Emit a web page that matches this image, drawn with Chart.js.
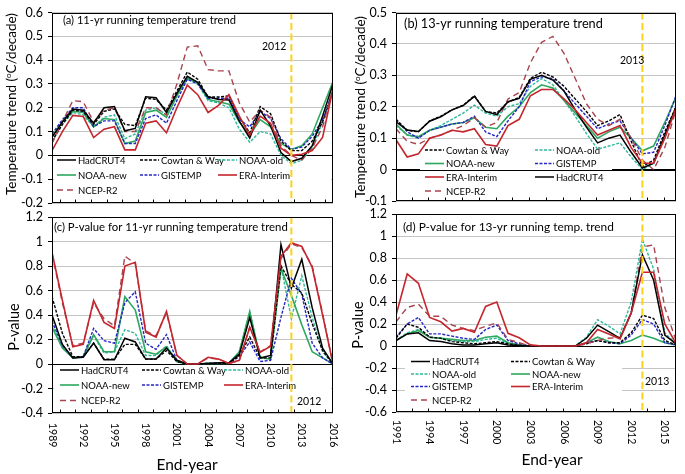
<!DOCTYPE html>
<html>
<head>
<meta charset="utf-8">
<script src="https://cdn.jsdelivr.net/npm/chart.js@4.4.1/dist/chart.umd.min.js"></script>
<style>
  body { margin: 0; background: #fff; }
  #wrap { position: relative; width: 685px; height: 474px; font-family: Lato, sans-serif; color: #000; overflow: hidden; }
  #wrap canvas { position: absolute; left: 0; top: 0; }
  .lbl { position: absolute; white-space: nowrap; transform: translate(-50%, -50%); line-height: 1; }
  .vert { transform: translate(-50%, -50%) rotate(-90deg); }
  sup { font-size: 8px; vertical-align: 5px; }
</style>
</head>
<body>
<div id="wrap">
  <canvas id="chartA" width="685" height="474"></canvas>
  <canvas id="chartB" width="685" height="474"></canvas>
  <canvas id="chartC" width="685" height="474"></canvas>
  <canvas id="chartD" width="685" height="474"></canvas>
  <div class="lbl vert" style="left:11px;top:104px;font-size:13.5px">Temperature trend (<sup>o</sup>C/decade)</div>
  <div class="lbl vert" style="left:360px;top:107px;font-size:13.5px">Temperature trend (<sup>o</sup>C/decade)</div>
  <div class="lbl vert" style="left:14px;top:327px;font-size:14.5px">P-value</div>
  <div class="lbl vert" style="left:358px;top:325px;font-size:14.5px">P-value</div>
  <div class="lbl" style="left:187px;top:465px;font-size:15.5px">End-year</div>
  <div class="lbl" style="left:552px;top:460px;font-size:15.5px">End-year</div>
</div>
<script>
// End-years of the running windows
const yearsA = [1989, 1990, 1991, 1992, 1993, 1994, 1995, 1996, 1997, 1998, 1999, 2000, 2001, 2002,
                2003, 2004, 2005, 2006, 2007, 2008, 2009, 2010, 2011, 2012, 2013, 2014, 2015, 2016];
const yearsB = [1991, 1992, 1993, 1994, 1995, 1996, 1997, 1998, 1999, 2000, 2001, 2002, 2003,
                2004, 2005, 2006, 2007, 2008, 2009, 2010, 2011, 2012, 2013, 2014, 2015, 2016];
const tickYearsA = [1989, 1992, 1995, 1998, 2001, 2004, 2007, 2010, 2013, 2016];
const tickYearsB = [1991, 1994, 1997, 2000, 2003, 2006, 2009, 2012, 2015];

const names = ['HadCRUT4', 'Cowtan & Way', 'NOAA-old', 'NOAA-new', 'GISTEMP', 'ERA-Interim', 'NCEP-R2'];

// (a) 11-yr running trend (ºC/decade)
const a_hadcrut = [0.076, 0.14, 0.195, 0.19, 0.135, 0.2, 0.205, 0.103, 0.113, 0.246, 0.242, 0.18, 0.26, 0.332, 0.307, 0.246, 0.235, 0.233, 0.144, 0.073, 0.19, 0.124, 0.012, -0.026, -0.012, 0.04, 0.165, 0.3];
const a_cowtan  = [0.06, 0.13, 0.19, 0.185, 0.13, 0.185, 0.195, 0.13, 0.125, 0.24, 0.235, 0.19, 0.27, 0.35, 0.32, 0.245, 0.245, 0.25, 0.16, 0.095, 0.205, 0.175, 0.06, 0.02, 0.02, 0.06, 0.14, 0.27];
const a_noaaOld = [0.06, 0.13, 0.18, 0.17, 0.12, 0.16, 0.17, 0.07, 0.09, 0.19, 0.2, 0.17, 0.25, 0.32, 0.3, 0.23, 0.22, 0.2, 0.11, 0.055, 0.1, 0.09, 0.0, -0.035, -0.02, 0.03, 0.14, 0.28];
const a_noaaNew = [0.08, 0.14, 0.185, 0.18, 0.12, 0.155, 0.15, 0.05, 0.06, 0.18, 0.19, 0.16, 0.25, 0.325, 0.305, 0.235, 0.225, 0.215, 0.14, 0.085, 0.15, 0.12, 0.05, 0.025, 0.04, 0.09, 0.2, 0.31];
const a_gistemp = [0.09, 0.15, 0.2, 0.2, 0.12, 0.145, 0.145, 0.05, 0.05, 0.155, 0.17, 0.135, 0.23, 0.32, 0.3, 0.24, 0.24, 0.24, 0.15, 0.12, 0.185, 0.155, 0.07, 0.025, 0.035, 0.08, 0.15, 0.27];
const a_era     = [0.02, 0.1, 0.168, 0.163, 0.075, 0.11, 0.12, 0.023, 0.023, 0.135, 0.145, 0.095, 0.2, 0.295, 0.255, 0.18, 0.21, 0.255, 0.165, 0.085, 0.165, 0.135, 0.03, 0.0, 0.005, 0.02, 0.075, 0.28];
const a_ncep    = [0.05, 0.14, 0.23, 0.225, 0.14, 0.19, 0.2, 0.1, 0.1, 0.2, 0.2, 0.17, 0.3, 0.455, 0.46, 0.36, 0.355, 0.355, 0.22, 0.14, 0.19, 0.16, 0.04, 0.0, -0.02, 0.03, 0.12, 0.28];

// (b) 13-yr running trend (ºC/decade)
const b_hadcrut = [0.152, 0.126, 0.121, 0.154, 0.168, 0.19, 0.204, 0.233, 0.185, 0.175, 0.216, 0.227, 0.287, 0.3, 0.285, 0.25, 0.19, 0.135, 0.085, 0.1, 0.11, 0.055, 0.005, 0.02, 0.11, 0.2];
const b_cowtan  = [0.16, 0.125, 0.12, 0.155, 0.17, 0.19, 0.205, 0.235, 0.185, 0.18, 0.215, 0.23, 0.29, 0.31, 0.295, 0.265, 0.225, 0.185, 0.14, 0.155, 0.175, 0.09, 0.01, 0.03, 0.12, 0.2];
const b_noaaOld = [0.14, 0.11, 0.1, 0.125, 0.14, 0.16, 0.18, 0.205, 0.18, 0.17, 0.2, 0.21, 0.265, 0.29, 0.27, 0.22, 0.17, 0.115, 0.065, 0.075, 0.085, 0.04, 0.0, 0.02, 0.1, 0.2];
const b_noaaNew = [0.145, 0.11, 0.105, 0.125, 0.135, 0.145, 0.15, 0.165, 0.135, 0.13, 0.17, 0.2, 0.245, 0.27, 0.26, 0.22, 0.18, 0.14, 0.1, 0.12, 0.135, 0.1, 0.06, 0.075, 0.15, 0.23];
const b_gistemp = [0.16, 0.12, 0.1, 0.125, 0.135, 0.145, 0.15, 0.17, 0.12, 0.105, 0.155, 0.2, 0.28, 0.295, 0.29, 0.25, 0.21, 0.17, 0.13, 0.145, 0.155, 0.1, 0.05, 0.055, 0.14, 0.235];
const b_era     = [0.095, 0.04, 0.05, 0.1, 0.11, 0.125, 0.12, 0.13, 0.08, 0.075, 0.14, 0.16, 0.235, 0.255, 0.255, 0.225, 0.19, 0.15, 0.11, 0.125, 0.14, 0.07, 0.02, 0.02, 0.1, 0.195];
const b_ncep    = [0.13, 0.09, 0.08, 0.1, 0.11, 0.125, 0.14, 0.165, 0.135, 0.15, 0.225, 0.245, 0.34, 0.405, 0.424, 0.37, 0.29, 0.21, 0.16, 0.14, 0.16, 0.1, 0.03, 0.0, 0.07, 0.19];

// (c) P-value, 11-yr trend
const c_hadcrut = [0.4, 0.16, 0.05, 0.055, 0.17, 0.035, 0.035, 0.21, 0.18, 0.04, 0.04, 0.13, 0.03, 0.0, 0.0, 0.005, 0.01, 0.01, 0.08, 0.38, 0.05, 0.07, 0.975, 0.62, 0.855, 0.46, 0.13, 0.0];
const c_cowtan  = [0.55, 0.25, 0.06, 0.06, 0.17, 0.04, 0.04, 0.16, 0.16, 0.04, 0.04, 0.11, 0.02, 0.0, 0.0, 0.005, 0.005, 0.005, 0.07, 0.22, 0.05, 0.05, 0.8, 0.65, 0.58, 0.33, 0.11, 0.0];
const c_noaaOld = [0.32, 0.14, 0.05, 0.06, 0.23, 0.09, 0.1, 0.28, 0.25, 0.07, 0.07, 0.15, 0.02, 0.0, 0.0, 0.005, 0.005, 0.005, 0.1, 0.42, 0.06, 0.04, 0.8, 0.37, 0.72, 0.38, 0.1, 0.0];
const c_noaaNew = [0.3, 0.13, 0.05, 0.06, 0.24, 0.1, 0.1, 0.55, 0.44, 0.1, 0.08, 0.14, 0.02, 0.0, 0.0, 0.005, 0.005, 0.005, 0.1, 0.43, 0.05, 0.04, 0.78, 0.56, 0.32, 0.1, 0.05, 0.0];
const c_gistemp = [0.35, 0.15, 0.05, 0.06, 0.29, 0.19, 0.17, 0.5, 0.59, 0.17, 0.12, 0.24, 0.03, 0.0, 0.0, 0.005, 0.005, 0.005, 0.06, 0.18, 0.02, 0.03, 0.38, 0.7, 0.57, 0.17, 0.05, 0.0];
const c_era     = [0.91, 0.52, 0.14, 0.16, 0.52, 0.34, 0.29, 0.8, 0.83, 0.26, 0.22, 0.43, 0.07, 0.0, 0.0, 0.055, 0.04, 0.005, 0.03, 0.3, 0.095, 0.145, 0.88, 0.99, 0.96, 0.79, 0.4, 0.0];
const c_ncep    = [0.9, 0.5, 0.15, 0.17, 0.5, 0.37, 0.31, 0.88, 0.82, 0.27, 0.23, 0.42, 0.07, 0.0, 0.0, 0.05, 0.04, 0.005, 0.03, 0.3, 0.1, 0.15, 0.86, 0.98, 0.95, 0.8, 0.41, 0.0];

// (d) P-value, 13-yr trend
const d_hadcrut = [0.05, 0.11, 0.12, 0.05, 0.04, 0.02, 0.01, 0.01, 0.02, 0.03, 0.01, 0.005, 0, 0, 0, 0, 0, 0.07, 0.19, 0.13, 0.07, 0.3, 0.83, 0.6, 0.1, 0.02];
const d_cowtan  = [0.07, 0.2, 0.17, 0.08, 0.07, 0.04, 0.03, 0.02, 0.03, 0.04, 0.02, 0.005, 0, 0, 0, 0, 0, 0.02, 0.05, 0.03, 0.03, 0.12, 0.28, 0.25, 0.05, 0.01];
const d_noaaOld = [0.05, 0.12, 0.15, 0.08, 0.07, 0.05, 0.04, 0.04, 0.06, 0.07, 0.02, 0.005, 0, 0, 0, 0, 0, 0.08, 0.24, 0.18, 0.11, 0.4, 0.97, 0.7, 0.12, 0.02];
const d_noaaNew = [0.05, 0.11, 0.14, 0.08, 0.07, 0.06, 0.05, 0.05, 0.08, 0.09, 0.03, 0.01, 0, 0, 0, 0, 0, 0.03, 0.08, 0.04, 0.02, 0.05, 0.1, 0.07, 0.03, 0.01];
const d_gistemp = [0.08, 0.2, 0.26, 0.11, 0.11, 0.09, 0.07, 0.06, 0.15, 0.19, 0.05, 0.02, 0, 0, 0, 0, 0, 0.03, 0.05, 0.03, 0.02, 0.1, 0.24, 0.2, 0.03, 0.01];
const d_era     = [0.28, 0.655, 0.57, 0.26, 0.22, 0.135, 0.16, 0.125, 0.36, 0.4, 0.115, 0.075, 0.01, 0, 0, 0, 0, 0.03, 0.15, 0.11, 0.065, 0.3, 0.67, 0.67, 0.2, 0.025];
const d_ncep    = [0.22, 0.35, 0.38, 0.27, 0.27, 0.19, 0.16, 0.14, 0.18, 0.21, 0.06, 0.03, 0, 0, 0, 0, 0, 0.02, 0.05, 0.07, 0.08, 0.3, 0.9, 0.92, 0.35, 0.05];

// line styles, same order as names
const colors = ['#000000', '#000000', '#2fb89c', '#2ea85f', '#2626c4', '#c4262e', '#a8434f'];
const dashes = [[], [3, 1.5], [3, 1.5], [], [3, 1.5], [], [6, 4]];
const widths = [1.5, 1.4, 1.4, 1.6, 1.4, 1.6, 1.4];
const drawOrder = [1, 3, 6, 5, 4, 0, 2]; // lower = drawn on top

Chart.defaults.font.family = 'Lato, sans-serif';
Chart.defaults.color = '#000';

function fitFont(ctx, text, width) {
    ctx.font = '20px Lato';
    const w = ctx.measureText(text).width;
    return (20 * width / w).toFixed(2) + 'px Lato';
}

// Draws the panel extras: legend, marker line, frame, year labels, title
const decoPlugin = {
    id: 'deco',
    beforeDatasetsDraw(chart, args, opts) {
        const ctx = chart.ctx;
        const area = chart.chartArea;
        ctx.save();
        const b = opts.legendBox;
        ctx.fillStyle = '#fff';
        ctx.fillRect(b[0], b[1], b[2] - b[0], b[3] - b[1]);
        ctx.font = '9.5px Lato';
        ctx.textBaseline = 'middle';
        opts.legend.forEach(([idx, x, y]) => {
            const ds = chart.data.datasets[idx];
            ctx.strokeStyle = ds.borderColor;
            ctx.lineWidth = ds.borderWidth;
            ctx.setLineDash(ds.borderDash);
            ctx.beginPath();
            ctx.moveTo(x, y);
            ctx.lineTo(x + 19, y);
            ctx.stroke();
            ctx.setLineDash([]);
            ctx.fillStyle = '#000';
            ctx.fillText(ds.label, x + 21, y + 0.5);
        });
        // zero line stays visible over the legend box
        const y0 = Math.round(chart.scales.y.getPixelForValue(0)) + 0.5;
        ctx.strokeStyle = '#000';
        ctx.lineWidth = 1;
        ctx.beginPath();
        ctx.moveTo(area.left, y0);
        ctx.lineTo(area.right, y0);
        ctx.stroke();
        ctx.restore();
    },
    afterDatasetsDraw(chart, args, opts) {
        const ctx = chart.ctx;
        const area = chart.chartArea;
        const xs = chart.scales.x;
        ctx.save();

        // yellow end-year marker
        const mx = xs.getPixelForValue(opts.markYear);
        ctx.strokeStyle = '#fbd31c';
        ctx.lineWidth = 2;
        ctx.setLineDash([7, 3.5]);
        ctx.beginPath();
        ctx.moveTo(mx, area.top);
        ctx.lineTo(mx, area.bottom);
        ctx.stroke();
        ctx.setLineDash([]);
        ctx.fillStyle = '#000';
        ctx.font = '10.5px Lato';
        ctx.textBaseline = 'middle';
        ctx.textAlign = 'left';
        ctx.fillText(String(opts.markYear), opts.markText[0], opts.markText[1]);

        // frame
        ctx.strokeStyle = '#000';
        ctx.lineWidth = 1;
        const l = Math.round(area.left) + 0.5, t = Math.round(area.top) + 0.5;
        const r = Math.round(area.right) - 0.5, bt = Math.round(area.bottom) - 0.5;
        ctx.strokeRect(l, t, r - l, bt - t);

        // small inward ticks on the bottom axis
        for (let v = opts.minorStart; v < xs.max; v += 1.5) {
            const tx = Math.round(xs.getPixelForValue(v)) + 0.5;
            ctx.beginPath();
            ctx.moveTo(tx, bt);
            ctx.lineTo(tx, bt - 3);
            ctx.stroke();
        }

        // rotated year labels
        if (opts.yearLabels) {
            ctx.font = '10.5px Lato';
            ctx.textBaseline = 'middle';
            ctx.textAlign = 'left';
            opts.yearLabels.forEach(yr => {
                const px = xs.getPixelForValue(yr);
                ctx.save();
                ctx.translate(px, area.bottom + opts.yearGap);
                ctx.rotate(Math.PI / 2);
                ctx.fillText(String(yr), 0, 0);
                ctx.restore();
            });
        }

        // panel title
        ctx.font = fitFont(ctx, opts.title, opts.titleWidth);
        ctx.textAlign = 'left';
        ctx.textBaseline = 'middle';
        ctx.fillText(opts.title, opts.titlePos[0], opts.titlePos[1]);
        ctx.restore();
    }
};

function makePanel(id, years, series, cfg) {
    const datasets = series.map((vals, i) => ({
        label: names[i],
        data: vals.map((v, j) => ({ x: years[j], y: v })),
        borderColor: colors[i],
        borderDash: dashes[i],
        borderWidth: widths[i],
        pointRadius: 0,
        tension: 0,
        fill: false,
        order: drawOrder[i]
    }));
    return new Chart(document.getElementById(id), {
        type: 'line',
        data: { datasets: datasets },
        options: {
            responsive: false,
            animation: false,
            devicePixelRatio: 1,
            layout: { padding: cfg.padding },
            plugins: {
                legend: { display: false },
                tooltip: { enabled: false },
                deco: cfg.deco
            },
            scales: {
                x: {
                    type: 'linear',
                    min: years[0],
                    max: years[years.length - 1],
                    ticks: { display: false },
                    grid: { display: false },
                    border: { display: false },
                    afterFit: s => { s.height = 0; }
                },
                y: {
                    min: cfg.yMin,
                    max: cfg.yMax,
                    ticks: {
                        stepSize: cfg.yStep,
                        padding: 5,
                        font: { size: 12.5 },
                        color: '#000',
                        callback: v => String(Number(v.toFixed(1)))
                    },
                    grid: {
                        color: c => Math.abs(c.tick.value) < 1e-9 ? '#000' : '#c4c4c4',
                        tickColor: '#000',
                        tickLength: 4,
                        lineWidth: 1
                    },
                    border: { display: false },
                    afterFit: s => { s.width = 40; }
                }
            }
        },
        plugins: [decoPlugin]
    });
}

makePanel('chartA', yearsA, [a_hadcrut, a_cowtan, a_noaaOld, a_noaaNew, a_gistemp, a_era, a_ncep], {
    padding: { left: 12, top: 7.6, right: 352, bottom: 271 },
    yMin: -0.2, yMax: 0.6, yStep: 0.1,
    deco: {
        title: '(a) 11-yr running temperature trend', titlePos: [63, 20], titleWidth: 173,
        markYear: 2012, markText: [262, 47],
        legendBox: [54, 156, 331, 200],
        legend: [[0, 57, 160], [1, 140, 160], [2, 218, 160],
                 [3, 57, 175], [4, 140, 175], [5, 218, 175],
                 [6, 57, 190]],
        minorStart: 1989.75
    }
});

makePanel('chartB', yearsB, [b_hadcrut, b_cowtan, b_noaaOld, b_noaaNew, b_gistemp, b_era, b_ncep], {
    padding: { left: 356, top: 8, right: 9, bottom: 273 },
    yMin: -0.1, yMax: 0.5, yStep: 0.1,
    deco: {
        title: '(b) 13-yr running temperature trend', titlePos: [404, 24], titleWidth: 199,
        markYear: 2013, markText: [620, 61],
        legendBox: [420, 143, 612, 198],
        legend: [[1, 425, 150], [2, 535, 150],
                 [3, 425, 163.5], [4, 535, 163.5],
                 [5, 425, 177], [0, 535, 177],
                 [6, 425, 191]],
        minorStart: 1992.4
    }
});

makePanel('chartC', yearsA, [c_hadcrut, c_cowtan, c_noaaOld, c_noaaNew, c_gistemp, c_era, c_ncep], {
    padding: { left: 12, top: 217, right: 352, bottom: 61 },
    yMin: -0.4, yMax: 1.2, yStep: 0.2,
    deco: {
        title: '(c) P-value for 11-yr running temperature trend', titlePos: [54, 227], titleWidth: 234,
        markYear: 2012, markText: [297, 402],
        legendBox: [54, 363, 331, 411],
        legend: [[0, 60, 370], [1, 142, 370], [2, 224, 370],
                 [3, 60, 385], [4, 142, 385], [5, 224, 385],
                 [6, 60, 400.5]],
        minorStart: 1989.75,
        yearLabels: tickYearsA, yearGap: 10
    }
});

makePanel('chartD', yearsB, [d_hadcrut, d_cowtan, d_noaaOld, d_noaaNew, d_gistemp, d_era, d_ncep], {
    padding: { left: 356, top: 214, right: 9, bottom: 62 },
    yMin: -0.6, yMax: 1.2, yStep: 0.2,
    deco: {
        title: '(d) P-value for 13-yr running temp. trend', titlePos: [403, 227], titleWidth: 211,
        markYear: 2013, markText: [645, 382],
        legendBox: [405, 354, 622, 408],
        legend: [[0, 411, 361.5], [1, 511, 361.5],
                 [2, 411, 374], [3, 511, 374],
                 [4, 411, 386.5], [5, 511, 386.5],
                 [6, 411, 400]],
        minorStart: 1992.4,
        yearLabels: tickYearsB, yearGap: 8
    }
});
</script>
</body>
</html>
